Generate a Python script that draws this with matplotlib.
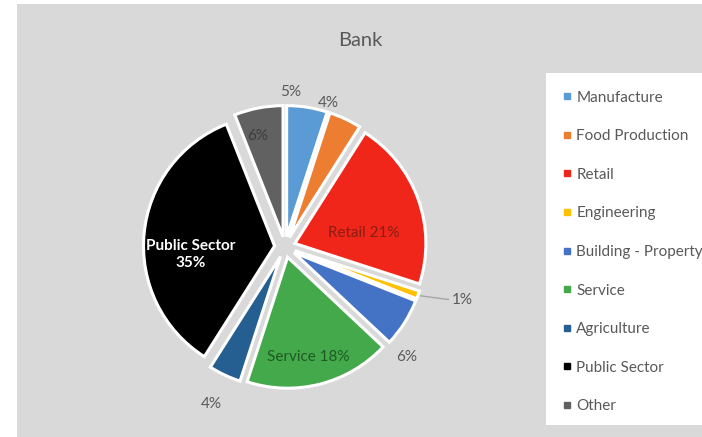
import numpy as np
import matplotlib
matplotlib.use("Agg")
import matplotlib.pyplot as plt
from matplotlib.patches import Rectangle
from matplotlib.lines import Line2D

plt.rcParams['font.family'] = ['Lato', 'DejaVu Sans']

# Sector shares of the bank's lending (percent)
sectors = ["Manufacture", "Food Production", "Retail", "Engineering",
           "Building - Property", "Service", "Agriculture", "Public Sector", "Other"]
shares = [5, 4, 21, 1, 6, 18, 4, 35, 6]
colors = ["#5b9bd5", "#ed7d31", "#f0261b", "#ffc000", "#4472c4",
          "#43a94b", "#255e91", "#000000", "#616161"]

# Label text for each slice, where it sits (radius factor, angle nudge in degrees)
label_text = ["5%", "4%", "Retail 21%", "1%", "6%", "Service 18%", "4%",
              "Public Sector\n35%", "6%"]
label_radius = [1.18, 1.15, 0.61, 1.41, 1.25, 0.86, 1.32, 0.72, 0.87]
label_nudge = [6.8, 8.4, -10, 3.0, -9.6, -2.4, 0, 10.0, 3.0]
label_color = ["#595959", "#595959", "#8a1d14", "#595959", "#595959",
               "#1f5a24", "#595959", "#ffffff", "#3c3c3c"]
label_weight = ["normal"] * 7 + ["bold", "normal"]

W, H = 702, 437
fig = plt.figure(figsize=(W / 100, H / 100), dpi=100)
fig.patch.set_facecolor("white")

# grey chart area
fig.add_artist(Rectangle((17 / W, 0), 1 - 17 / W, 1 - 4 / H,
                         transform=fig.transFigure, facecolor="#d9d9d9",
                         edgecolor="none", zorder=0))

# pie axes: centre at (285, 247) px, 126 px per data unit
S = 126
cx, cy = 285, H - 247
half = 1.3 * S
ax = fig.add_axes([(cx - half) / W, (cy - half) / H, 2 * half / W, 2 * half / H])
ax.set_xlim(-1.3, 1.3)
ax.set_ylim(-1.3, 1.3)
ax.set_aspect("equal")
ax.axis("off")

wedges, _ = ax.pie(shares, colors=colors, startangle=90, counterclock=False,
                   explode=[0.08] * len(shares),
                   wedgeprops=dict(edgecolor="white", linewidth=2.2))

for w, txt, r, dn, col, wt in zip(wedges, label_text, label_radius, label_nudge,
                                  label_color, label_weight):
    mid = np.deg2rad((w.theta1 + w.theta2) / 2 + dn)
    ax.text(r * np.cos(mid), r * np.sin(mid), txt, ha="center", va="center",
            fontsize=11, color=col, fontweight=wt, linespacing=1.3)

# leader line for the smallest slice
eng = wedges[3]
a0 = np.deg2rad((eng.theta1 + eng.theta2) / 2)
a1 = np.deg2rad((eng.theta1 + eng.theta2) / 2 + 2.0)
ax.plot([1.1 * np.cos(a0), 1.31 * np.cos(a1)], [1.1 * np.sin(a0), 1.31 * np.sin(a1)],
        color="#a6a6a6", lw=1.0, clip_on=False)

fig.text(360 / W, 1 - 40 / H, "Bank", ha="center", va="center",
         fontsize=14.5, color="#595959")

# legend box
fig.add_artist(Rectangle((546 / W, 1 - 425 / H), (W - 546) / W, (425 - 73) / H,
                         transform=fig.transFigure, facecolor="white",
                         edgecolor="none", zorder=1))
handles = [Line2D([], [], marker="s", linestyle="none", markersize=4.5,
                  markerfacecolor=c, markeredgecolor=c) for c in colors]
leg = fig.legend(handles, sectors, loc="upper left",
                 bbox_to_anchor=(555 / W, 1 - 83 / H), frameon=False,
                 fontsize=11.0, labelcolor="#595959", handlelength=0.6,
                 handletextpad=0.3, labelspacing=1.61, borderpad=0)
leg.set_zorder(2)

fig.savefig("out.png", dpi=100, facecolor=fig.get_facecolor())
